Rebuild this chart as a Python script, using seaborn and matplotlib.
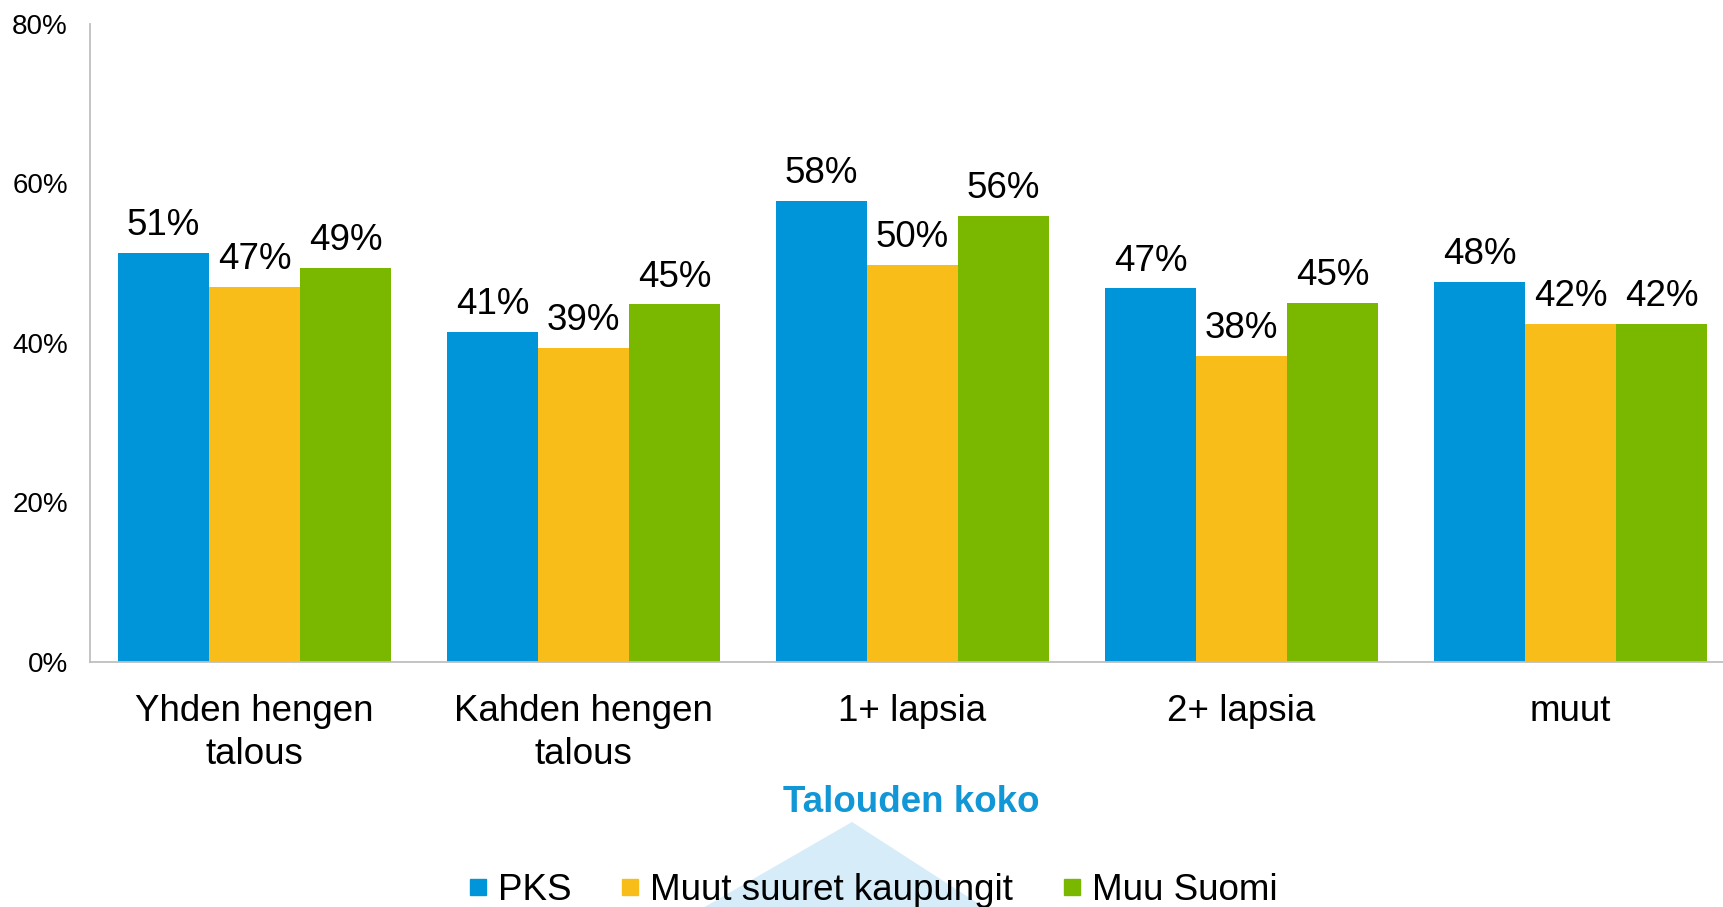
import matplotlib.pyplot as plt
import seaborn as sns
import numpy as np
import pandas as pd
from matplotlib.lines import Line2D
from matplotlib.patches import Polygon

categories = ["Yhden hengen\ntalous", "Kahden hengen\ntalous", "1+ lapsia", "2+ lapsia", "muut"]
regions = ["PKS", "Muut suuret kaupungit", "Muu Suomi"]

pks = [51.3, 41.4, 57.8, 46.8, 47.6]
muut_kaupungit = [47.0, 39.4, 49.8, 38.4, 42.4]
muu_suomi = [49.4, 44.8, 55.9, 45.0, 42.4]

yticks = [0, 20, 40, 60, 80]
colors = ["#0094D9", "#F8BD19", "#7AB800"]
title = "Talouden koko"


def plot_chart():
    sns.set_style("white")
    plt.rcParams["font.family"] = ["Liberation Sans", "DejaVu Sans"]
    plt.rcParams["text.color"] = "black"

    series = [pks, muut_kaupungit, muu_suomi]
    df = pd.DataFrame({
        "Talous": categories * len(regions),
        "Alue": np.repeat(regions, len(categories)),
        "Osuus": np.concatenate(series),
    })

    fig = plt.figure(figsize=(17.23, 9.07), dpi=100)
    ax = fig.add_axes([90 / 1723, 1 - 662 / 907, 1645 / 1723, (662 - 23.5) / 907])

    sns.barplot(
        data=df, x="Talous", y="Osuus", hue="Alue",
        order=categories, hue_order=regions, palette=colors,
        width=0.83, gap=0, saturation=1, linewidth=0,
        errorbar=None, legend=False, ax=ax
    )

    for container, vals in zip(ax.containers, series):
        ax.bar_label(container, labels=[f"{v:.0f}%" for v in vals],
                     padding=7, fontsize=26.5, color="black")

    ax.set_xlim(-0.5, len(categories) - 0.5)
    ax.set_ylim(0, 80)
    ax.set_yticks(yticks)
    ax.set_yticklabels([f"{t}%" for t in yticks])
    ax.set_xlabel("")
    ax.set_ylabel("")

    ax.tick_params(axis="y", length=0, pad=16, labelsize=20, labelcolor="black")
    ax.tick_params(axis="x", which="major", length=0, pad=23, labelsize=26.5,
                   labelcolor="black")
    for lbl in ax.get_xticklabels():
        lbl.set_linespacing(1.3)
    ax.set_xticks(np.arange(-0.5, len(categories), 1), minor=True)
    ax.tick_params(axis="x", which="minor", length=8, width=1.3,
                   color="#BFBFBF", direction="out")

    for side in ["top", "right"]:
        ax.spines[side].set_visible(False)
    for side in ["left", "bottom"]:
        ax.spines[side].set_color("#BFBFBF")
        ax.spines[side].set_linewidth(1.3)

    # light decorative triangle behind the legend
    tri = Polygon([(852 / 1723, 1 - 822 / 907), (626 / 1723, -0.05), (1054 / 1723, -0.05)],
                  closed=True, transform=fig.transFigure,
                  facecolor="#D6ECF9", edgecolor="none", zorder=0)
    fig.patches.append(tri)

    fig.text(911 / 1723, 1 - 803 / 907, title, ha="center", va="center",
             fontsize=26.5, fontweight="bold", color="#1196D6")

    handles = [Line2D([], [], marker="s", linestyle="", markersize=11.5,
                      color=c) for c in colors]
    fig.legend(handles, regions, loc="center", bbox_to_anchor=(0.507, 0.018),
               ncol=3, frameon=False, fontsize=26.5, handlelength=0.45,
               handletextpad=0.33, columnspacing=1.36, borderpad=0)

    fig.savefig("out.png", dpi=100)
    plt.close(fig)


if __name__ == "__main__":
    plot_chart()
